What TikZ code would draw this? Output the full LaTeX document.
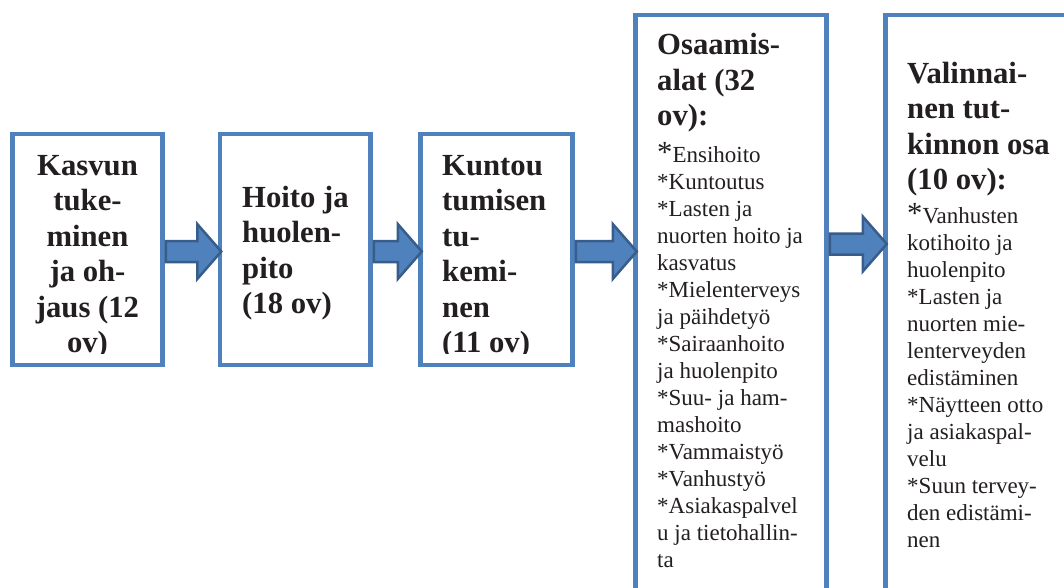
\documentclass[tikz,border=0pt]{standalone}
\usepackage{fontspec}
\setmainfont{Liberation Serif}
\usetikzlibrary{calc}

\definecolor{boxblue}{RGB}{79,129,189}
\definecolor{arrowedge}{RGB}{56,93,138}
\definecolor{ink}{RGB}{35,31,32}

\newcommand\headfont{\fontsize{30.7}{35.5}\selectfont\bfseries}
\newcommand\listfont{\fontsize{23}{27}\selectfont}
\newcommand\firststar{{\fontsize{30.7}{27}\selectfont*}}
% line break followed by a list asterisk (plain \\* would be read as a starred break)
\newcommand\entry{\\{}*}

\tikzset{
  stagebox/.style={draw=boxblue, line width=4.5pt, fill=white, rectangle, inner sep=0pt},
  boxtext/.style={anchor=base west, inner sep=0pt, text=ink},
  blockarrow/.style={fill=boxblue, draw=arrowedge, line width=2.5pt, line join=miter},
}

% block arrow between two boxes: #1 from, #2 to, #3 axis y
\newcommand\flowarrow[3]{%
  \draw[blockarrow] let \p1=(#1.east), \p2=(#2.west) in
    (\x1+1,#3-10.5) -- (\x2-20.5,#3-10.5) -- (\x2-20.5,#3-27.5) --
    (\x2+3.5,#3) --
    (\x2-20.5,#3+27.5) -- (\x2-20.5,#3+10.5) -- (\x1+1,#3+10.5) -- cycle;}

\begin{document}
\begin{tikzpicture}[x=1pt,y=-1pt]
  \useasboundingbox (0,0) rectangle (1064,587);
  \clip (0,0) rectangle (1064,587);

  % stage boxes
  \node[stagebox, minimum width=150pt, minimum height=231pt] (b1) at (87.5,249.5) {};
  \node[stagebox, minimum width=150.5pt, minimum height=231pt] (b2) at (295.25,249.5) {};
  \node[stagebox, minimum width=152pt, minimum height=231pt] (b3) at (496.5,249.5) {};
  \node[stagebox, minimum width=191pt, minimum height=600pt] (b4) at (731,315) {};
  \node[stagebox, minimum width=200pt, minimum height=600pt] (b5) at (985.5,315) {};

  % box texts
  \begin{scope}
    \clip (10,137) rectangle (170,353);
    \node[boxtext, anchor=base] (t1) at (87.5,175)
      {\parbox[t]{150pt}{\centering\headfont Kasvun\\tuke-\\minen\\ja oh-\\jaus (12\\ov)}};
  \end{scope}

  \node[boxtext] (t2) at (242,207)
    {\parbox[t]{130pt}{\raggedright\headfont Hoito ja\\huolen-\\pito\\(18 ov)}};

  \begin{scope}
    \clip (420,137) rectangle (575,353);
    \node[boxtext] (t3) at (442,175)
      {\parbox[t]{130pt}{\raggedright\headfont Kuntou\\tumisen\\tu-\\kemi-\\nen\\(11 ov)}};
  \end{scope}

  \node[boxtext] (t4) at (657,54.5)
    {\parbox[t]{165pt}{\raggedright\headfont Osaamis-\\alat (32\\ov):}};
  \node[boxtext] (l4) at (657,162)
    {\parbox[t]{165pt}{\raggedright\listfont \firststar Ensihoito\entry Kuntoutus\entry Lasten ja\\nuorten hoito ja\\kasvatus\entry Mielenterveys\\ja päihdetyö\entry Sairaanhoito\\ja huolenpito\entry Suu- ja ham-\\mashoito\entry Vammaistyö\entry Vanhustyö\entry Asiakaspalvel\\u ja tietohallin-\\ta}};

  \node[boxtext] (t5) at (907,83)
    {\parbox[t]{155pt}{\raggedright\headfont Valinnai-\\nen tut-\\kinnon osa\\(10 ov):}};
  \node[boxtext] (l5) at (907,223)
    {\parbox[t]{155pt}{\raggedright\listfont \firststar Vanhusten\\kotihoito ja\\huolenpito\entry Lasten ja\\nuorten mie-\\lenterveyden\\edistäminen\entry Näytteen otto\\ja asiakaspal-\\velu\entry Suun tervey-\\den edistämi-\\nen}};

  % arrows between stages
  \flowarrow{b1}{b2}{251.5}
  \flowarrow{b2}{b3}{251.5}
  \flowarrow{b3}{b4}{251.5}
  \flowarrow{b4}{b5}{244}
\end{tikzpicture}
\end{document}
